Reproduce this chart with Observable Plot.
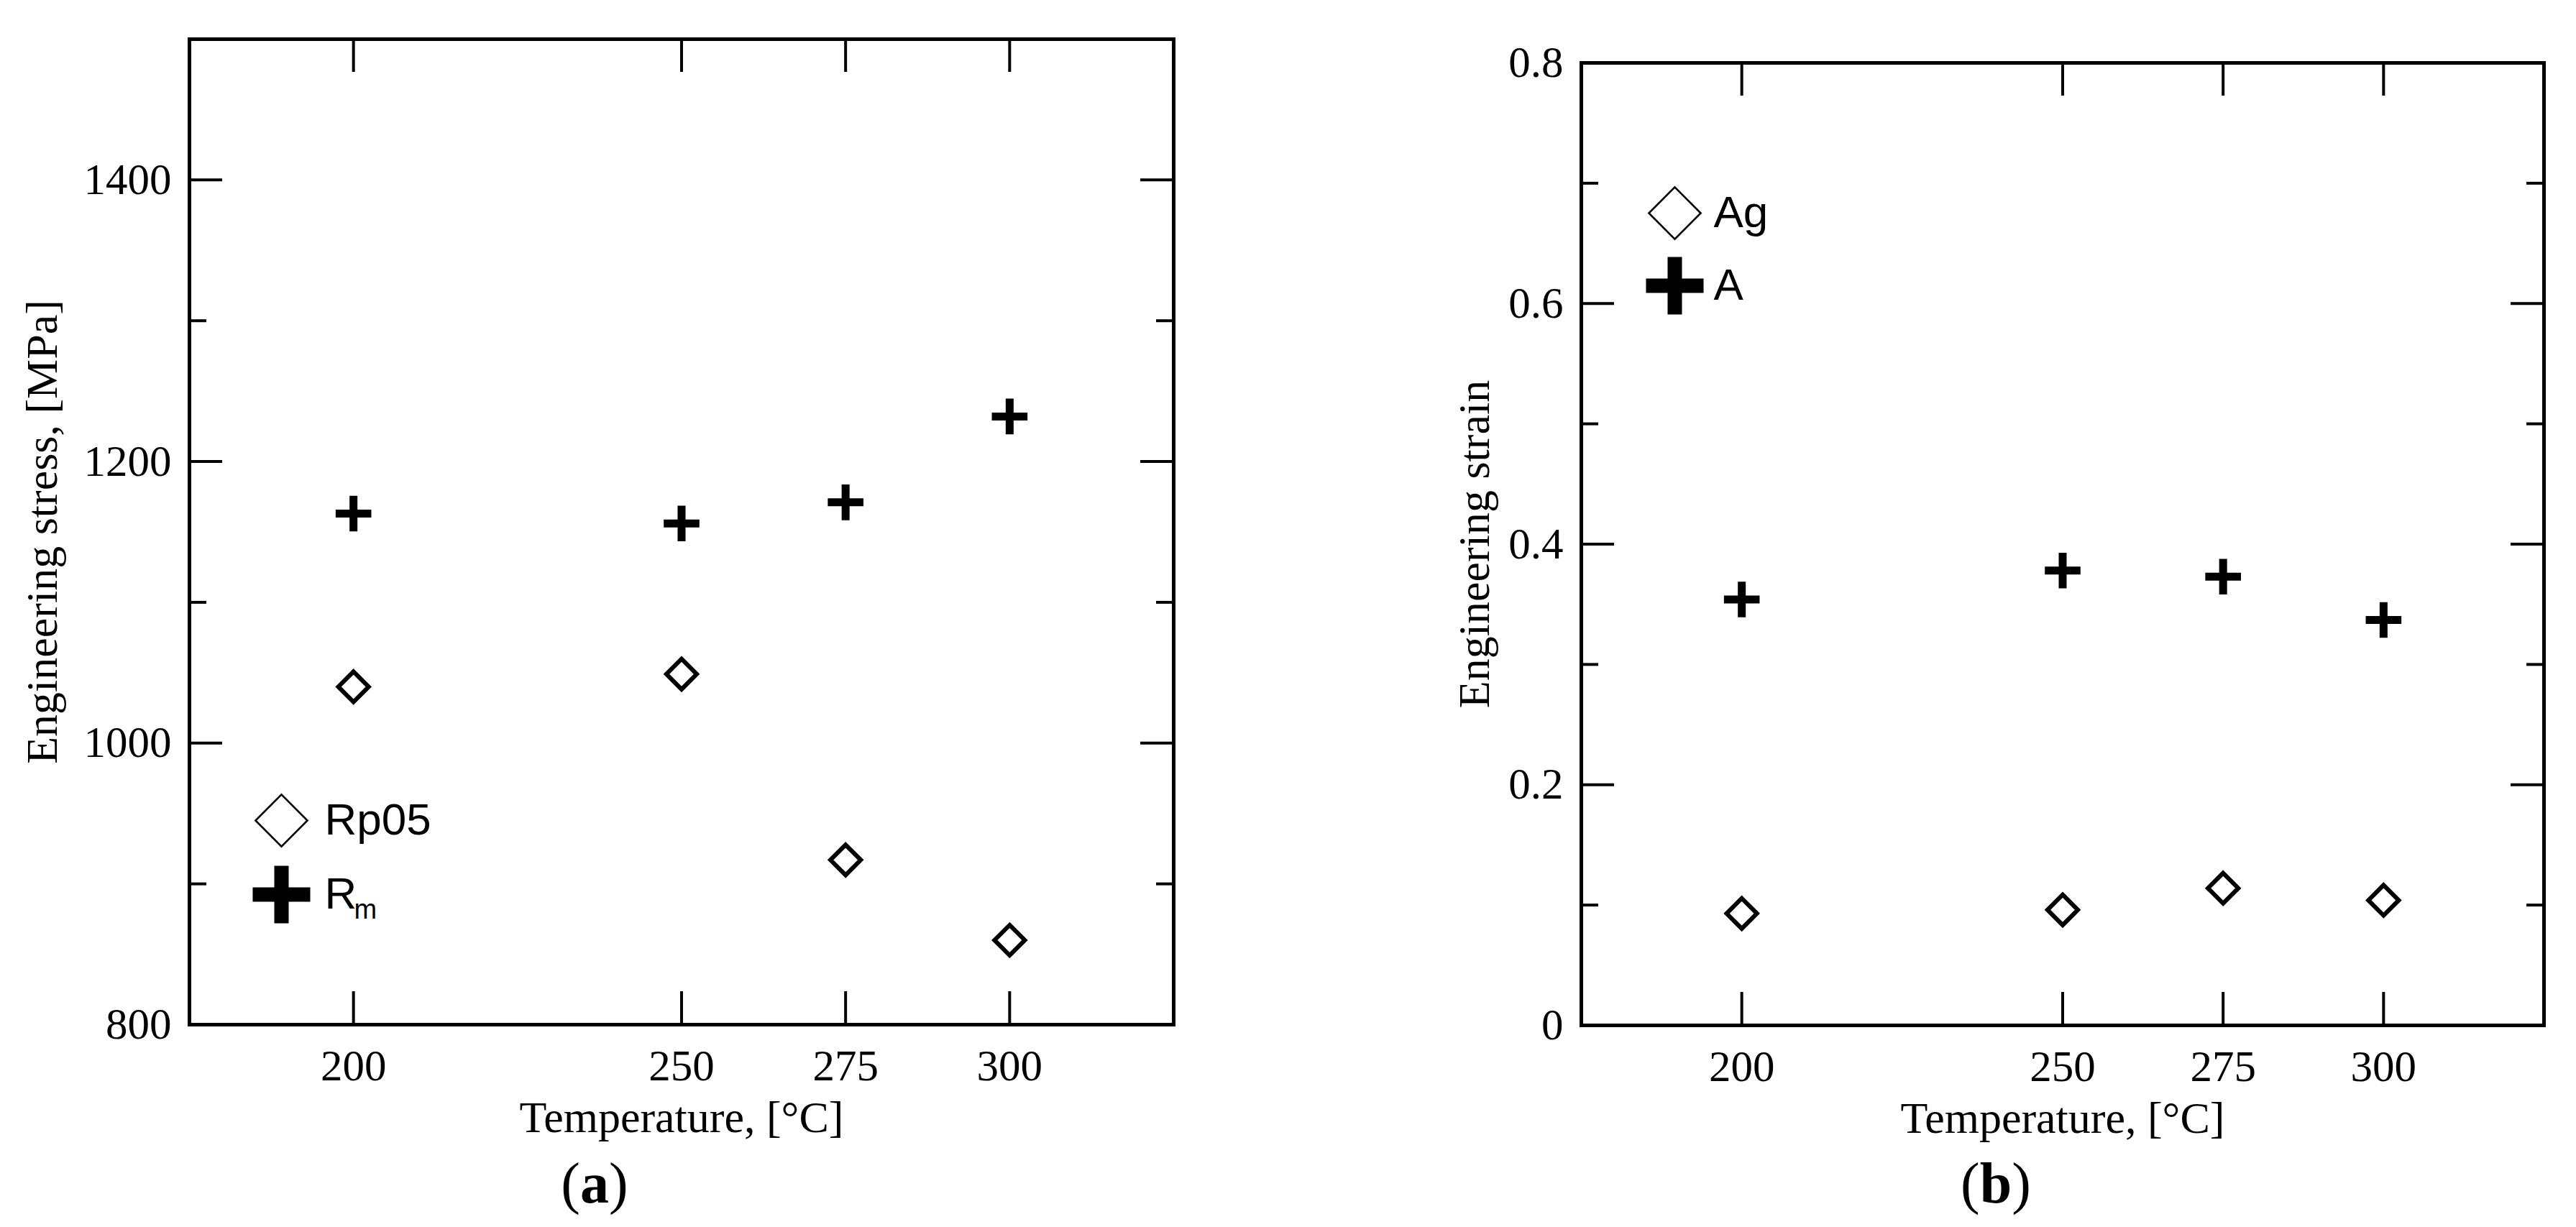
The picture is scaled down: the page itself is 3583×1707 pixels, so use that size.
<!DOCTYPE html>
<html>
<head>
<meta charset="utf-8">
<script src="https://cdn.jsdelivr.net/npm/d3@7"></script>
<script src="https://cdn.jsdelivr.net/npm/@observablehq/plot@0.6"></script>
<style>
  html, body { margin: 0; padding: 0; background: #fff; }
  #wrap { position: relative; width: 3583px; height: 1707px; background: #fff; overflow: hidden; }
  .panel { position: absolute; top: 0; }
  .cap { position: absolute; top: 1606px; font-family: "Liberation Serif", "Times New Roman", serif; font-size: 80px; line-height: 1; transform: translateX(-50%); white-space: nowrap; color: #000; }
</style>
</head>
<body>
<div id="wrap">
  <div id="pa" class="panel" style="left:0px"></div>
  <div id="pb" class="panel" style="left:1900px"></div>
  <div class="cap" style="left:827px">(<b>a</b>)</div>
  <div class="cap" style="left:2776px">(<b>b</b>)</div>
</div>
<script>
// ---- data ----
const temps = [200, 250, 275, 300];
const rp05 = [1040, 1049, 917, 860];
const rm = [1163, 1156, 1171, 1232];
const ag = [0.093, 0.096, 0.114, 0.104];
const elong = [0.354, 0.378, 0.373, 0.337];

const xTicks = [200, 250, 275, 300];
const yMajorA = [800, 1000, 1200, 1400];
const yMinorA = [900, 1100, 1300];
const yMajorB = [0, 0.2, 0.4, 0.6, 0.8];
const yMinorB = [0.1, 0.3, 0.5, 0.7];

const xLabel = "Temperature, [°C]";
const yLabelA = "Engineering stress, [MPa]";
const yLabelB = "Engineering strain";
const legendA = ["Rp05", "R"];
const legendSubA = ["", "m"];
const legendB = ["Ag", "A"];
const legendSubB = ["", ""];

// ---- drawing ----
const SERIF = '"Liberation Serif", "Times New Roman", serif';
const SANS = '"Liberation Sans", Arial, sans-serif';

function makePanel(cfg) {
  const plotW = cfg.width - cfg.marginLeft - cfg.marginRight;
  const plotH = cfg.height - cfg.marginTop - cfg.marginBottom;
  const major = 46, minor = 24, tw = 4;
  const rows = temps.map((t, i) => ({t, a: cfg.s1[i], b: cfg.s2[i]}));
  const symbols = ["diamond2", "plus"];
  const legendMarks = [];
  cfg.legend.forEach((lab, i) => {
    const dy = cfg.legDy + i * cfg.legGap;
    legendMarks.push(Plot.dot([lab], {
      frameAnchor: "top-left", dx: cfg.legDx, dy,
      symbol: symbols[i], r: i === 0 ? 32.5 : 25.8,
      stroke: "#000", strokeWidth: i === 0 ? 2.6 : 20, fill: "none"
    }));
    legendMarks.push(Plot.text([lab], {
      frameAnchor: "top-left", dx: cfg.legDx + cfg.legTextDx, dy,
      text: d => d, textAnchor: "start", lineAnchor: "middle",
      fontFamily: SANS, fontSize: 62, fill: "#000"
    }));
    if (cfg.legendSub[i]) {
      legendMarks.push(Plot.text([cfg.legendSub[i]], {
        frameAnchor: "top-left", dx: cfg.legDx + cfg.legTextDx + 41, dy: dy + 21,
        text: d => d, textAnchor: "start", lineAnchor: "middle",
        fontFamily: SANS, fontSize: 38, fill: "#000"
      }));
    }
  });
  return Plot.plot({
    width: cfg.width, height: cfg.height,
    marginLeft: cfg.marginLeft, marginTop: cfg.marginTop,
    marginRight: cfg.marginRight, marginBottom: cfg.marginBottom,
    style: {fontFamily: SERIF, color: "#000", background: "#fff", overflow: "visible"},
    x: {domain: [175, 325], axis: null},
    y: {domain: cfg.yDomain, axis: null},
    marks: [
      // tick labels (serif) drawn through the x / y scales
      Plot.text(xTicks, {x: d => d, frameAnchor: "bottom", dy: 77, text: d => String(d),
        textAnchor: "middle", lineAnchor: "bottom", fontSize: 61, fontFamily: SERIF, fill: "#000"}),
      Plot.text(cfg.yMajor, {y: d => d, frameAnchor: "left", dx: -25, text: cfg.fmt,
        textAnchor: "end", lineAnchor: "middle", fontSize: 61, fontFamily: SERIF, fill: "#000"}),
      // inward ticks
      Plot.tickX(xTicks, {x: d => d, insetTop: plotH - major, strokeWidth: tw, stroke: "#000"}),
      Plot.tickX(xTicks, {x: d => d, insetBottom: plotH - major, strokeWidth: tw, stroke: "#000"}),
      Plot.tickY(cfg.yMajor, {y: d => d, insetRight: plotW - major, strokeWidth: tw, stroke: "#000"}),
      Plot.tickY(cfg.yMajor, {y: d => d, insetLeft: plotW - major, strokeWidth: tw, stroke: "#000"}),
      Plot.tickY(cfg.yMinor, {y: d => d, insetRight: plotW - minor, strokeWidth: tw, stroke: "#000"}),
      Plot.tickY(cfg.yMinor, {y: d => d, insetLeft: plotW - minor, strokeWidth: tw, stroke: "#000"}),
      Plot.frame({strokeWidth: 5, stroke: "#000"}),
      Plot.dot(rows, {x: "t", y: "a", symbol: "diamond2", r: 19, stroke: "#000", strokeWidth: 6, fill: "none"}),
      Plot.dot(rows, {x: "t", y: "b", symbol: "plus", r: 16, stroke: "#000", strokeWidth: 11}),
      ...legendMarks,
      Plot.text([cfg.yLabel], {frameAnchor: "left", dx: cfg.yLabelDx, rotate: -90, text: d => d,
        textAnchor: "middle", lineAnchor: "bottom", fontSize: 62, fontFamily: SERIF, fill: "#000"}),
      Plot.text([xLabel], {frameAnchor: "bottom", dy: 149, text: d => d,
        textAnchor: "middle", lineAnchor: "bottom", fontSize: 62, fontFamily: SERIF, fill: "#000"})
    ]
  });
}

const fmtA = d => String(d);
const fmtB = d => d === 0 ? "0" : d.toFixed(1);

document.getElementById("pa").appendChild(makePanel({
  width: 1700, height: 1640, marginLeft: 263, marginTop: 54, marginRight: 68, marginBottom: 215,
  yDomain: [800, 1500], yMajor: yMajorA, yMinor: yMinorA, fmt: fmtA,
  s1: rp05, s2: rm, yLabel: yLabelA, yLabelDx: -185,
  legend: legendA, legendSub: legendSubA, legDx: 128, legDy: 1087, legGap: 103, legTextDx: 60
}));

document.getElementById("pb").appendChild(makePanel({
  width: 1683, height: 1640, marginLeft: 299, marginTop: 87, marginRight: 45, marginBottom: 214,
  yDomain: [0, 0.8], yMajor: yMajorB, yMinor: yMinorB, fmt: fmtB,
  s1: ag, s2: elong, yLabel: yLabelB, yLabelDx: -129,
  legend: legendB, legendSub: legendSubB, legDx: 130, legDy: 209, legGap: 101, legTextDx: 54
}));
</script>
</body>
</html>
